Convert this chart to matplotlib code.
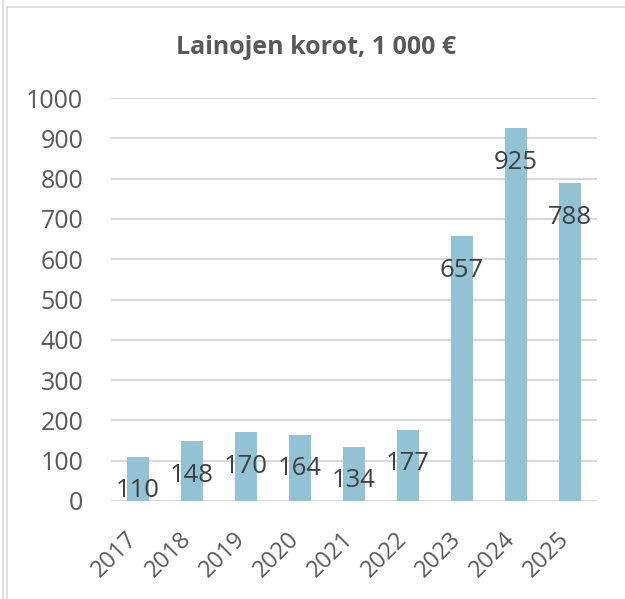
import numpy as np
import matplotlib.pyplot as plt
import matplotlib.transforms as mtransforms
from matplotlib.lines import Line2D

years = ['2017', '2018', '2019', '2020', '2021', '2022', '2023', '2024', '2025']
korot = [110, 148, 170, 164, 134, 177, 657, 925, 788]
yticks = [0, 100, 200, 300, 400, 500, 600, 700, 800, 900, 1000]

plt.rcParams['font.family'] = ['Open Sans', 'DejaVu Sans']
grey = '#595959'
barcol = '#92C3D4'

fig = plt.figure(figsize=(6.25, 5.99), dpi=100)
ax = fig.add_axes([111/625, 98/599, 486/625, 403/599])

x = np.arange(len(years))
ax.bar(x, korot, width=0.4, color=barcol, zorder=3)
for xi, v in zip(x, korot):
    ax.annotate(str(v), (xi, v), xytext=(0, -34), textcoords='offset pixels',
                ha='center', va='center', fontsize=18.5, color='#404040', zorder=4)

ax.set_xlim(-0.5, len(years) - 0.5)
ax.set_ylim(0, 1000)
ax.set_yticks(yticks)
ax.set_yticklabels([str(t) for t in yticks], fontsize=18, color=grey)
ax.set_xticks(x)
ax.set_xticklabels(years, fontsize=17, color=grey, rotation=45,
                   ha='right', va='center', rotation_mode='anchor')
ax.tick_params(axis='y', length=0, pad=20)
ax.tick_params(axis='x', length=0, pad=25)
# nudge year labels a little to the left
shift = mtransforms.ScaledTranslation(-4/100, 0, fig.dpi_scale_trans)
for lbl in ax.get_xticklabels():
    lbl.set_transform(lbl.get_transform() + shift)
ax.grid(axis='y', color='#D9D9D9', linewidth=1.5, zorder=0)
for s in ax.spines.values():
    s.set_visible(False)

fig.text(316/625, 1 - 48/599, 'Lainojen korot, 1 000 €', ha='center', va='center',
         fontsize=18, fontweight='bold', color=grey)

# chart frame
fig.add_artist(Line2D([7/625, 7/625], [0, 1 - 7/599], color='#D9D9D9', lw=1.2))
fig.add_artist(Line2D([7/625, 1], [1 - 7/599, 1 - 7/599], color='#D9D9D9', lw=1.2))
fig.add_artist(Line2D([3/625, 3/625], [0, 1], color='#D9D9D9', lw=1.2))

fig.savefig('out.png', dpi=100)
